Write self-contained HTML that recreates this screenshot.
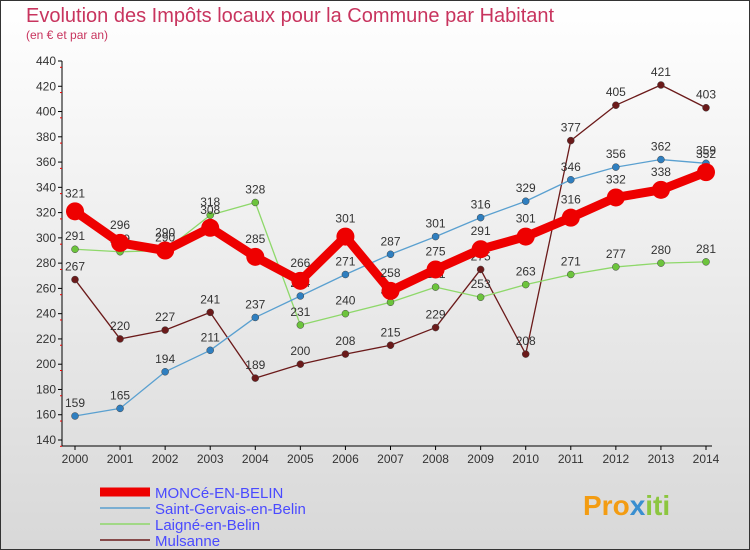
<!DOCTYPE html>
<html><head><meta charset="utf-8"><style>
body{margin:0;width:750px;height:550px;overflow:hidden;font-family:"Liberation Sans",sans-serif}
svg{display:block}
</style></head><body>
<svg width="750" height="550" id="c">
<defs><linearGradient id="bg" x1="0" y1="0" x2="0" y2="1"><stop offset="0" stop-color="#ffffff"/><stop offset="1" stop-color="#d8d8d8"/></linearGradient></defs>
<rect x="0.5" y="0.5" width="749" height="549" fill="url(#bg)" stroke="#333"/>
<text x="26" y="22" font-size="20" fill="#c8345e">Evolution des Impôts locaux pour la Commune par Habitant</text>
<text x="26" y="39" font-size="12" fill="#c8345e">(en € et par an)</text>
<g id="axes"></g><g id="series"></g><g id="legend"></g>
<text x="583" y="515" font-size="28" font-weight="bold" fill="#f39c12">Pro<tspan fill="#3a8fd0">x</tspan><tspan fill="#8cc63f">iti</tspan></text>
</svg>
<script>
const years=[2000,2001,2002,2003,2004,2005,2006,2007,2008,2009,2010,2011,2012,2013,2014];
const yTicks=[140,160,180,200,220,240,260,280,300,320,340,360,380,400,420,440];
const moncE=[321,296,290,308,285,266,301,258,275,291,301,316,332,338,352];
const saintGervais=[159,165,194,211,237,254,271,287,301,316,329,346,356,362,359];
const laigne=[291,289,290,318,328,231,240,249,261,253,263,271,277,280,281];
const mulsanne=[267,220,227,241,189,200,208,215,229,275,208,377,405,421,403];
const seriesNames=["MONCé-EN-BELIN","Saint-Gervais-en-Belin","Laigné-en-Belin","Mulsanne"];
const NS="http://www.w3.org/2000/svg";
const X=i=>75+i*(706-75)/(years.length-1);
const Y=v=>440-(v-140)*(379/300);
function mk(t,a,p){const e=document.createElementNS(NS,t);for(const k in a)e.setAttribute(k,a[k]);p.appendChild(e);return e;}
const ax=document.getElementById('axes');
let l=mk('line',{x1:62,y1:61,x2:62,y2:446,stroke:'#000'},ax);


l=mk('line',{x1:62,y1:446,x2:712,y2:446,stroke:'#000'},ax);


yTicks.forEach(v=>{const y=Y(v);mk('line',{x1:58,y1:y,x2:62,y2:y,stroke:'#000'},ax);
mk('line',{x1:60,y1:y+6.3,x2:62,y2:y+6.3,stroke:'#e00'},ax);
const t=mk('text',{x:56,y:y+4,'text-anchor':'end','font-size':12,fill:'#333'},ax);t.textContent=v;

});
years.forEach((yr,i)=>{const x=X(i);mk('line',{x1:x,y1:446,x2:x,y2:450,stroke:'#000'},ax);
const t=mk('text',{x:x,y:463,'text-anchor':'middle','font-size':12,fill:'#333'},ax);t.textContent=yr;

});
const sg=document.getElementById('series');
const defs=[[mulsanne,'#6b1a1a','#6b1a1a',1.3,3.5,'mulsanne'],[laigne,'#8ed86a','#6cc43c',1.3,3.5,'laigne'],[saintGervais,'#5aa0d0','#2f7fc0',1.3,3.5,'saint-gervais'],[moncE,'#ee0000','#ee0000',9,9,'monce']];
defs.forEach(([d,c,mc,w,r,n])=>{
const p=mk('polyline',{points:d.map((v,i)=>X(i)+','+Y(v)).join(' '),fill:'none',stroke:c,'stroke-width':w,'stroke-linejoin':'round'},sg);


d.forEach((v,i)=>{const m=mk('circle',{cx:X(i),cy:Y(v),r:r,fill:mc,stroke:r>5?'none':'#444','stroke-width':0.5},sg);


const t=mk('text',{x:X(i),y:Y(v)-(r>5?14:9),'text-anchor':'middle','font-size':12,fill:'#333'},sg);t.textContent=v;

});});
const lg=document.getElementById('legend');
const lc=['#ee0000','#5aa0d0','#8ed86a','#6b1a1a'],lw=[9,1.5,1.5,1.5],ly=[492,508,524,540];
seriesNames.forEach((s,i)=>{const g=mk('g',{},lg);


mk('line',{x1:100,y1:ly[i],x2:150,y2:ly[i],stroke:lc[i],'stroke-width':lw[i]},g);
const t=mk('text',{x:155,y:ly[i]+6,'font-size':15,fill:'#4a4aff'},g);t.textContent=s;});
</script>
</body></html>
